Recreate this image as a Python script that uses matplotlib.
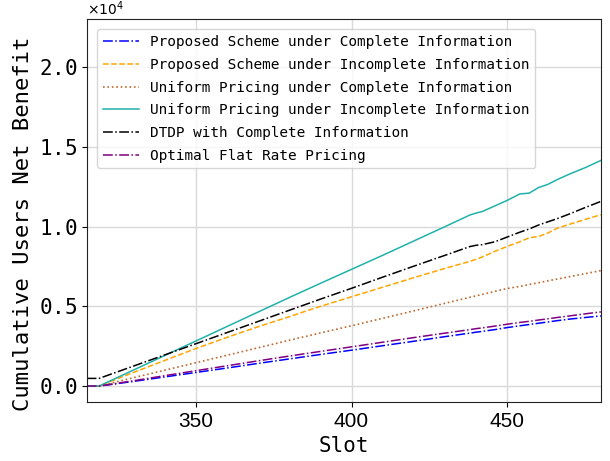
import numpy as np
import matplotlib
matplotlib.use("Agg")
import matplotlib.pyplot as plt

slots = [315, 319, 330, 340, 350, 360, 370, 380, 390, 400, 410, 420, 430, 438,
         440, 442, 446, 450, 454, 457, 460, 463, 466, 470, 475, 480]

proposed_complete = [0, 0, 290, 570, 850, 1130, 1420, 1700, 1980, 2250, 2530, 2810, 3100, 3320,
                     3380, 3430, 3540, 3670, 3780, 3860, 3940, 4020, 4100, 4200, 4300, 4400]
proposed_incomplete = [0, 0, 850, 1600, 2350, 3050, 3720, 4350, 5000, 5600, 6200, 6800, 7380, 7820,
                       7950, 8100, 8450, 8760, 9050, 9300, 9380, 9600, 9900, 10150, 10450, 10750]
uniform_complete = [0, 0, 520, 990, 1460, 1930, 2400, 2870, 3330, 3780, 4250, 4720, 5190, 5570,
                    5660, 5750, 5940, 6120, 6250, 6370, 6480, 6600, 6710, 6860, 7050, 7240]
uniform_incomplete = [0, 0, 1000, 1910, 2820, 3730, 4640, 5550, 6440, 7320, 8200, 9100, 10000, 10730,
                      10850, 10950, 11300, 11650, 12050, 12100, 12450, 12650, 12950, 13300, 13700, 14150]
dtdp_complete = [480, 480, 1250, 1950, 2650, 3350, 4050, 4750, 5450, 6130, 6830, 7520, 8200, 8750,
                 8830, 8870, 9050, 9350, 9650, 9850, 10100, 10300, 10500, 10800, 11200, 11580]
flat_rate = [0, 0, 330, 650, 960, 1270, 1580, 1880, 2170, 2460, 2750, 3040, 3320, 3540,
             3600, 3650, 3760, 3880, 3990, 4060, 4140, 4220, 4300, 4400, 4530, 4650]

fig = plt.figure(figsize=(6.1, 4.61), dpi=100)
ax = fig.add_axes([0.142, 0.128, 0.843, 0.830])

x = np.array(slots)
ax.plot(x, proposed_complete, color='b', ls='-.', lw=1.1,
        label='Proposed Scheme under Complete Information')
ax.plot(x, proposed_incomplete, color='orange', ls='--', lw=1.1,
        label='Proposed Scheme under Incomplete Information')
ax.plot(x, uniform_complete, color='#c0692e', ls=':', lw=1.2,
        label='Uniform Pricing under Complete Information')
ax.plot(x, uniform_incomplete, color='lightseagreen', ls='-', lw=1.1,
        label='Uniform Pricing under Incomplete Information')
ax.plot(x, dtdp_complete, color='k', ls='-.', lw=1.1,
        label='DTDP with Complete Information')
ax.plot(x, flat_rate, color='purple', ls='-.', lw=1.1,
        label='Optimal Flat Rate Pricing')

ax.set_xlim(315, 480)
ax.set_ylim(-1000, 23000)
ax.set_xticks([350, 400, 450])
ax.set_yticks([0, 5000, 10000, 15000, 20000])
ax.ticklabel_format(axis='y', style='sci', scilimits=(0, 0), useMathText=True)
ax.yaxis.get_offset_text().set_fontsize(10)

ax.grid(True, color='#d9d9d9', lw=1)
ax.set_axisbelow(True)
for s in ax.spines.values():
    s.set_color('#222222')

ax.tick_params(axis='x', labelsize=15, labelfontfamily='Liberation Sans')
ax.tick_params(axis='y', labelsize=15, labelfontfamily='DejaVu Sans Mono')

ax.set_xlabel('Slot', fontsize=15, family='DejaVu Sans Mono')
ax.set_ylabel('Cumulative Users Net Benefit', fontsize=16, family='DejaVu Sans Mono')
ax.yaxis.set_label_coords(-0.104, 0.465)

ax.legend(loc='upper left', prop={'family': 'DejaVu Sans Mono', 'size': 10.4},
          handlelength=2.5, labelspacing=0.6, borderaxespad=0.7)

fig.savefig('out.png', dpi=100)
